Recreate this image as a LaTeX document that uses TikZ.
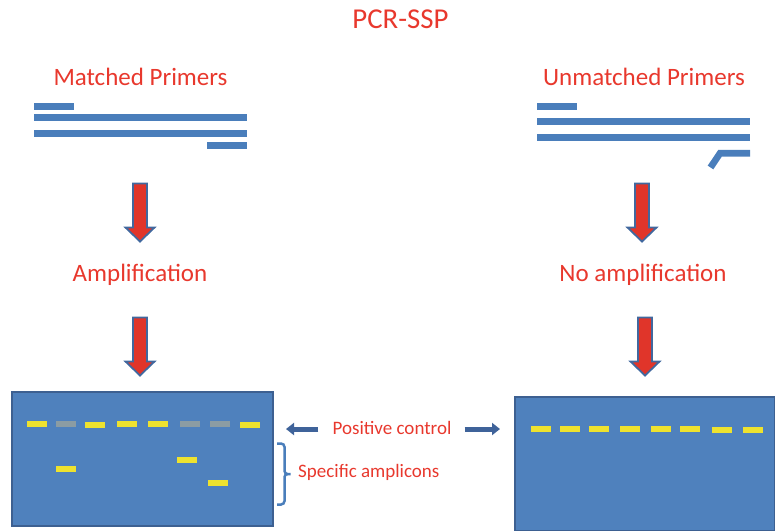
\documentclass[tikz,border=0pt]{standalone}
\usepackage{fontspec}
\setmainfont{Carlito}
\usetikzlibrary{arrows.meta}

\definecolor{txtred}{HTML}{E8382D}
\definecolor{dna}{HTML}{4A7EBB}
\definecolor{gelblue}{HTML}{4F81BD}
\definecolor{geledge}{HTML}{3D6091}
\definecolor{bandyel}{HTML}{EEE22E}
\definecolor{bandgray}{HTML}{8B9CA3}
\definecolor{ctrlblue}{HTML}{3F639A}
\definecolor{arrowred}{HTML}{E0352A}
\definecolor{arrowedge}{HTML}{41689E}

\tikzset{
  heading/.style={text=txtred, inner sep=0pt, font=\fontsize{28.8}{34}\selectfont},
  lbl/.style={text=txtred, inner sep=0pt, font=\fontsize{25}{30}\selectfont},
  small/.style={text=txtred, inner sep=0pt, font=\fontsize{19}{23}\selectfont},
  strand/.style={fill=dna},
  gel/.style={draw=geledge, line width=2pt, fill=gelblue, inner sep=0pt},
  yband/.style={fill=bandyel},
  gband/.style={fill=bandgray},
  ctrlarrow/.style={draw=ctrlblue, line width=5pt, -{Triangle[length=8pt,width=12pt]}},
  bracket/.style={draw=dna, line width=2.5pt, line cap=butt},
  flowarrow/.pic={
    \draw[draw=arrowedge, fill=arrowred, line width=1.8pt, line join=miter]
      (-7,0) -- (7,0) -- (7,44) -- (14.5,44) -- (0,58) -- (-14.5,44) -- (-7,44) -- cycle;
  }
}

\begin{document}
\begin{tikzpicture}[x=1pt,y=-1pt]
\useasboundingbox (0,0) rectangle (775,530);

% title and stage labels
\node[heading, anchor=base] (title) at (400.5,28.3) {PCR-SSP};
\node[lbl, anchor=base] (matched) at (140.5,85) {Matched Primers};
\node[lbl, anchor=base] (unmatched) at (644,85) {Unmatched Primers};
\node[lbl, anchor=base] (amp) at (140,281.5) {Amplification};
\node[lbl, anchor=base] (noamp) at (643,281.5) {No amplification};

% matched primers annealed to both strands
\fill[strand] (34,103) rectangle (74,109.7);
\fill[strand] (34,114) rectangle (247,121);
\fill[strand] (34,130) rectangle (247,137);
\fill[strand] (207,142) rectangle (247,149);

% unmatched primer with a mismatched 3' end
\fill[strand] (537,103) rectangle (577,109.7);
\fill[strand] (537,118) rectangle (750,124.7);
\fill[strand] (537,134) rectangle (750,140.7);
\draw[dna, line width=6.7pt, line join=miter] (750,153.3) -- (720,153.3) -- (710.5,167.5);

% process arrows
\pic at (140,183.5) {flowarrow};
\pic at (140,317.5) {flowarrow};
\pic at (642,183.5) {flowarrow};
\pic at (645,317.5) {flowarrow};

% gels
\node[gel, anchor=north west, minimum width=261pt, minimum height=134pt] (gelL) at (11,391) {};
\node[gel, anchor=north west, minimum width=260pt, minimum height=134pt] (gelR) at (514,396) {};

% left gel: control bands
\fill[yband] (27,421) rectangle ++(20,6);
\fill[gband] (56,421) rectangle ++(20,6);
\fill[yband] (85,422) rectangle ++(20,6);
\fill[yband] (117,421) rectangle ++(20,6);
\fill[yband] (148,421) rectangle ++(20,6);
\fill[gband] (180,421) rectangle ++(20,6);
\fill[gband] (210,421) rectangle ++(20,6);
\fill[yband] (240,422) rectangle ++(20,6);
% left gel: specific bands
\fill[yband] (56,466) rectangle ++(20,6);
\fill[yband] (177,457) rectangle ++(20,6);
\fill[yband] (208,480) rectangle ++(20,6);

% right gel: control bands only
\foreach \x in {531,560,589,620,651,680}
  \fill[yband] (\x,426) rectangle ++(20,6);
\foreach \x in {712,743}
  \fill[yband] (\x,427) rectangle ++(20,6);

% annotations
\node[small, anchor=base] (pc) at (392,434) {Positive control};
\draw[ctrlarrow] ([xshift=-14pt]pc.west |- 0,429) -- ([xshift=12pt]gelL.east |- 0,429);
\draw[ctrlarrow] ([xshift=13pt]pc.east |- 0,429) -- ([xshift=-14pt]gelR.west |- 0,429);

% right-hand bracket over the specific bands
\coordinate (bt) at (277,443.5);
\coordinate (bm) at (290.5,474);
\coordinate (bb) at (277,504.5);
\draw[bracket] (bt) -- (281,443.5) to[out=0,in=90] (284.5,447) -- (284.5,471)
  to[out=-90,in=180] (287.5,474) -- (bm);
\draw[bracket] (bb) -- (281,504.5) to[out=0,in=-90] (284.5,501) -- (284.5,477)
  to[out=90,in=180] (287.5,474);
\node[small, anchor=base west] (spec) at (298,477) {Specific amplicons};
\end{tikzpicture}
\end{document}
